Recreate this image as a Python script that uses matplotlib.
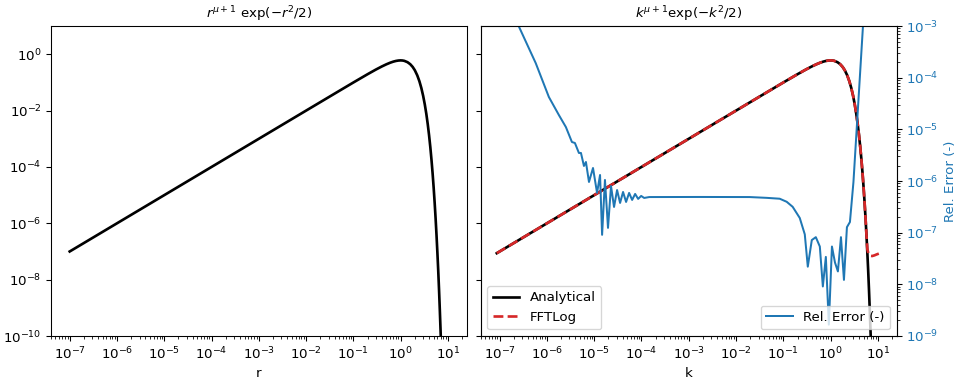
import numpy as np
import matplotlib
matplotlib.use("Agg")
import matplotlib.pyplot as plt

# input function r^(mu+1) exp(-r^2/2)
r_vals = [1e-7, 1e-6, 1e-5, 1e-4, 1e-3, 1e-2, 0.05, 0.1, 0.15, 0.2, 0.3, 0.4, 0.5, 0.6, 0.7,
          0.8, 0.9, 1.0, 1.1, 1.2, 1.4, 1.6, 1.8, 2.0, 2.25, 2.5, 2.75, 3.0, 3.25, 3.5, 3.75,
          4.0, 4.25, 4.5, 4.75, 5.0, 5.25, 5.5, 5.75, 6.0, 6.25, 6.5, 6.75, 7.0, 7.25, 7.5]
f_r = [1e-7, 1e-6, 1e-5, 1e-4, 1e-3, 0.01, 0.0499, 0.0995, 0.148, 0.196, 0.287, 0.369, 0.441,
       0.501, 0.548, 0.581, 0.600, 0.607, 0.601, 0.584, 0.524, 0.444, 0.356, 0.271, 0.179,
       0.110, 0.0627, 0.0333, 0.0165, 7.66e-3, 3.31e-3, 1.34e-3, 5.08e-4, 1.80e-4, 6.0e-5,
       1.86e-5, 5.4e-6, 1.49e-6, 3.8e-7, 9.1e-8, 2.1e-8, 4.4e-9, 8.6e-10, 1.6e-10, 2.8e-11,
       4.6e-12]

# analytical transform on the output k grid
k_ana = [8.7e-8, 1e-6, 1e-5, 1e-4, 1e-3, 1e-2, 0.05, 0.1, 0.15, 0.2, 0.3, 0.4, 0.5, 0.6, 0.7,
         0.8, 0.9, 1.0, 1.1, 1.2, 1.4, 1.6, 1.8, 2.0, 2.25, 2.5, 2.75, 3.0, 3.25, 3.5, 3.75,
         4.0, 4.25, 4.5, 4.75, 5.0, 5.25, 5.5, 5.75, 6.0, 6.25, 6.5, 6.75, 7.0, 7.25, 7.5]
f_ana = [8.7e-8, 1e-6, 1e-5, 1e-4, 1e-3, 0.01, 0.0499, 0.0995, 0.148, 0.196, 0.287, 0.369, 0.441,
         0.501, 0.548, 0.581, 0.600, 0.607, 0.601, 0.584, 0.524, 0.444, 0.356, 0.271, 0.179,
         0.110, 0.0627, 0.0333, 0.0165, 7.66e-3, 3.31e-3, 1.34e-3, 5.08e-4, 1.80e-4, 6.0e-5,
         1.86e-5, 5.4e-6, 1.49e-6, 3.8e-7, 9.1e-8, 2.1e-8, 4.4e-9, 8.6e-10, 1.6e-10, 2.8e-11,
         4.6e-12]

# FFTLog result (flattens out near 7e-8 at large k)
k_fft = [8.7e-8, 1e-6, 1e-5, 1e-4, 1e-3, 1e-2, 0.05, 0.1, 0.15, 0.2, 0.3, 0.4, 0.5, 0.6, 0.7,
         0.8, 0.9, 1.0, 1.1, 1.2, 1.4, 1.6, 1.8, 2.0, 2.25, 2.5, 2.75, 3.0, 3.25, 3.5, 3.75,
         4.0, 4.25, 4.5, 4.75, 5.0, 5.25, 5.5, 5.75, 6.0, 6.4, 7.0, 7.6, 8.5, 9.5, 10.5]
f_fft = [8.7e-8, 1e-6, 1e-5, 1e-4, 1e-3, 0.01, 0.0499, 0.0995, 0.148, 0.196, 0.287, 0.369, 0.441,
         0.501, 0.548, 0.581, 0.600, 0.607, 0.601, 0.584, 0.524, 0.444, 0.356, 0.271, 0.179,
         0.110, 0.0627, 0.0333, 0.0165, 7.66e-3, 3.31e-3, 1.34e-3, 5.08e-4, 1.80e-4, 6.0e-5,
         1.86e-5, 5.4e-6, 1.49e-6, 3.8e-7, 1.2e-7, 8.0e-8, 7.0e-8, 6.9e-8, 7.3e-8, 7.9e-8, 8.4e-8]

# relative error |fftlog - analytical| / analytical
k_err = [8.6e-8, 2.53e-7, 5.8e-7, 1.10e-6, 1.79e-6, 2.52e-6, 3.38e-6, 3.91e-6, 4.75e-6, 5.25e-6,
         6.07e-6, 6.69e-6, 7.76e-6, 9.44e-6, 1.15e-5, 1.33e-5, 1.47e-5, 1.69e-5, 1.96e-5, 2.27e-5,
         2.63e-5, 3.05e-5, 3.53e-5, 4.08e-5, 4.73e-5, 5.48e-5, 6.35e-5, 7.35e-5, 8.51e-5, 9.86e-5,
         1.14e-4, 1.46e-4, 1.68e-3, 1.94e-2, 4.45e-2, 8.4e-2, 0.118, 0.158, 0.223, 0.285, 0.330,
         0.401, 0.488, 0.593, 0.687, 0.795, 0.920, 1.07, 1.24, 1.43, 1.66, 1.92, 2.22, 2.57,
         3.05, 4.85, 6.2]
err = [1.0e-2, 1.0e-3, 1.92e-4, 4.24e-5, 1.90e-5, 1.11e-5, 5.70e-6, 5.46e-6, 3.50e-6, 3.50e-6,
       1.96e-6, 2.34e-6, 9.6e-7, 1.79e-6, 5.9e-7, 1.31e-6, 9.1e-8, 1.05e-6, 1.24e-7, 8.0e-7,
       3.15e-7, 6.7e-7, 3.77e-7, 6.15e-7, 3.94e-7, 5.89e-7, 4.31e-7, 5.63e-7, 4.51e-7, 5.15e-7,
       4.71e-7, 4.9e-7, 4.92e-7, 4.9e-7, 4.73e-7, 4.55e-7, 3.97e-7, 3.17e-7, 1.93e-7, 9.3e-8,
       2.2e-8, 7.2e-8, 8.2e-8, 5.4e-8, 9.1e-9, 3.4e-8, 1.66e-9, 5.4e-8, 2.65e-8, 1.78e-8,
       8.2e-8, 1.22e-8, 1.28e-7, 1.61e-7, 9.6e-7, 1.0e-3, 1.9e-2]

fig, (ax1, ax) = plt.subplots(1, 2, figsize=(10, 4), dpi=96, sharey=True)
fig.subplots_adjust(left=0.053, right=0.934, top=0.932, bottom=0.125, wspace=0.034)

ax1.loglog(r_vals, f_r, 'k', lw=2)
ax1.set_title(r'$r^{\mu+1}~\exp(-r^2/2)$', fontsize=10)
ax1.set_xlabel('r')
ax1.set_xlim(4e-8, 25)
ax1.set_ylim(1e-10, 1e1)

ax.loglog(k_ana, f_ana, 'k', lw=2, label='Analytical')
ax.loglog(k_fft, f_fft, '--', color='tab:red', lw=2, label='FFTLog')
ax.set_title(r'$k^{\mu+1}\exp(-k^2/2)$', fontsize=10)
ax.set_xlabel('k')
ax.set_xlim(4e-8, 25)
ax.legend(loc='lower left')

ax2 = ax.twinx()
ax2.loglog(k_err, err, color='tab:blue', label='Rel. Error (-)')
ax2.set_ylim(1e-9, 1e-3)
ax2.set_ylabel('Rel. Error (-)', color='tab:blue')
ax2.tick_params(axis='y', which='both', labelcolor='tab:blue')
ax2.legend(loc='lower right')

plt.savefig('out.png')
